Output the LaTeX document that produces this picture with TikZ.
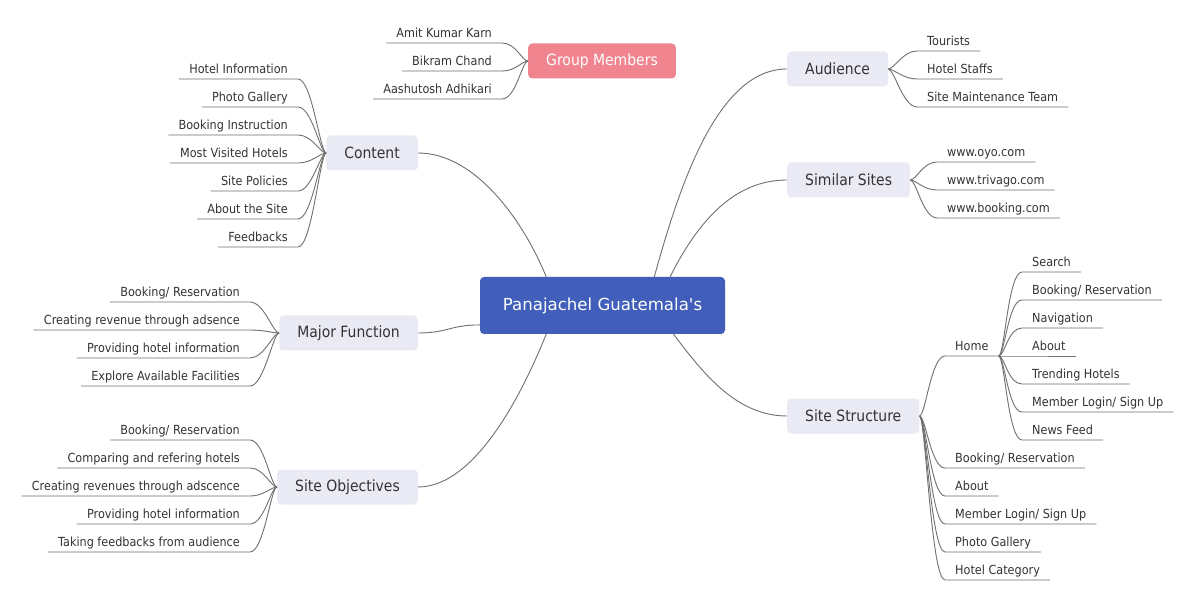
\documentclass[tikz,border=0pt]{standalone}
\usepackage{fontspec}
\setmainfont{DejaVu Sans}[FakeStretch=0.9]
\newfontfamily\rootfont{DejaVu Sans}[Ligatures=ResetAll]
\definecolor{rootblue}{RGB}{64,94,186}
\definecolor{topicgray}{RGB}{233,234,243}
\definecolor{grouppink}{RGB}{240,132,143}
\definecolor{linegray}{RGB}{112,112,112}
\definecolor{textdark}{RGB}{51,51,51}
\tikzset{
	root/.style={rectangle,rounded corners=4pt,fill=rootblue,text=white,font=\rootfont\fontsize{16.6}{20}\selectfont,minimum width=245pt,minimum height=57pt},
	topic/.style={rectangle,rounded corners=4pt,fill=topicgray,text=textdark,font=\fontsize{15.5}{18}\selectfont,minimum height=35pt,inner xsep=18pt},
	leaf/.style={inner xsep=10pt,inner ysep=2pt,text height=9pt,text depth=3pt,text=textdark,font=\fontsize{12.5}{14}\selectfont},
	link/.style={draw=linegray,line width=0.9pt},
}
\begin{document}
\begin{tikzpicture}[x=1pt,y=-1pt]
	\fill [white] (0,0) rectangle (1199,601);
	\useasboundingbox (0,0) rectangle (1199,601);
	% central topic and main branches
	\node [root] (root) at (602.5,305.5) {Panajachel Guatemala's};
	\node [topic,anchor=east] (content) at (418,153) {Content};
	\node [topic,anchor=east] (major) at (418,333) {Major Function};
	\node [topic,anchor=east] (objectives) at (418,487) {Site Objectives};
	\node [topic,fill=grouppink,text=white] (group) at (602,61) {Group Members};
	\node [topic,anchor=west] (audience) at (787,69) {Audience};
	\node [topic,anchor=west] (similar) at (787,180) {Similar Sites};
	\node [topic,anchor=west] (structure) at (787,416) {Site Structure};
	% group members
	\node [leaf,anchor=south east] (g1) at (502,43) {Amit Kumar Karn};
	\node [leaf,anchor=south east] (g2) at (502,71) {Bikram Chand};
	\node [leaf,anchor=south east] (g3) at (502,99) {Aashutosh Adhikari};
	% content
	\node [leaf,anchor=south east] (c1) at (298,79) {Hotel Information};
	\node [leaf,anchor=south east] (c2) at (298,107) {Photo Gallery};
	\node [leaf,anchor=south east] (c3) at (298,135) {Booking Instruction};
	\node [leaf,anchor=south east] (c4) at (298,163) {Most Visited Hotels};
	\node [leaf,anchor=south east] (c5) at (298,191) {Site Policies};
	\node [leaf,anchor=south east] (c6) at (298,219) {About the Site};
	\node [leaf,anchor=south east] (c7) at (298,247) {Feedbacks};
	% major function
	\node [leaf,anchor=south east] (m1) at (250,302) {Booking/ Reservation};
	\node [leaf,anchor=south east] (m2) at (250,330) {Creating revenue through adsence};
	\node [leaf,anchor=south east] (m3) at (250,358) {Providing hotel information};
	\node [leaf,anchor=south east] (m4) at (250,386) {Explore Available Facilities};
	% site objectives
	\node [leaf,anchor=south east] (o1) at (250,440) {Booking/ Reservation};
	\node [leaf,anchor=south east] (o2) at (250,468) {Comparing and refering hotels};
	\node [leaf,anchor=south east] (o3) at (250,496) {Creating revenues through adscence};
	\node [leaf,anchor=south east] (o4) at (250,524) {Providing hotel information};
	\node [leaf,anchor=south east] (o5) at (250,552) {Taking feedbacks from audience};
	% audience
	\node [leaf,anchor=south west] (a1) at (917,51) {Tourists};
	\node [leaf,anchor=south west] (a2) at (917,79) {Hotel Staffs};
	\node [leaf,anchor=south west] (a3) at (917,107) {Site Maintenance Team};
	% similar sites
	\node [leaf,anchor=south west] (s1) at (937,162) {www.oyo.com};
	\node [leaf,anchor=south west] (s2) at (937,190) {www.trivago.com};
	\node [leaf,anchor=south west] (s3) at (937,218) {www.booking.com};
	% site structure
	\node [leaf,anchor=south west] (home) at (945,356) {Home};
	\node [leaf,anchor=south west] (t1) at (945,468) {Booking/ Reservation};
	\node [leaf,anchor=south west] (t2) at (945,496) {About};
	\node [leaf,anchor=south west] (t3) at (945,524) {Member Login/ Sign Up};
	\node [leaf,anchor=south west] (t4) at (945,552) {Photo Gallery};
	\node [leaf,anchor=south west] (t5) at (945,580) {Hotel Category};
	\node [leaf,anchor=south west] (h1) at (1022,272) {Search};
	\node [leaf,anchor=south west] (h2) at (1022,300) {Booking/ Reservation};
	\node [leaf,anchor=south west] (h3) at (1022,328) {Navigation};
	\node [leaf,anchor=south west] (h4) at (1022,356) {About};
	\node [leaf,anchor=south west] (h5) at (1022,384) {Trending Hotels};
	\node [leaf,anchor=south west] (h6) at (1022,412) {Member Login/ Sign Up};
	\node [leaf,anchor=south west] (h7) at (1022,440) {News Feed};
	% branches from the centre
	\draw [link] (root.153.6) .. controls +(-20,-50) and +(60,0) .. (content.east);
	\draw [link] (root.189) .. controls +(-30,0) and +(30,0) .. (major.east);
	\draw [link] (root.207.6) .. controls +(-20,50) and +(60,0) .. (objectives.east);
	\draw [link] (root.29.9) .. controls +(25,-90) and +(-70,0) .. (audience.west);
	\draw [link] (root.23.8) .. controls +(30,-60) and +(-50,0) .. (similar.west);
	\draw [link] (root.-22.3) .. controls +(30,40) and +(-50,0) .. (structure.west);
	% sub-topics
	\foreach \i in {1,2,3}
		\draw [link] (group.west) .. controls +(-6,0) and +(14,0) .. (g\i.south east) -- (g\i.south west);
	\foreach \i in {1,...,7}
		\draw [link] (content.west) .. controls +(-6,0) and +(14,0) .. (c\i.south east) -- (c\i.south west);
	\foreach \i in {1,...,4}
		\draw [link] (major.west) .. controls +(-6,0) and +(14,0) .. (m\i.south east) -- (m\i.south west);
	\foreach \i in {1,...,5}
		\draw [link] (objectives.west) .. controls +(-6,0) and +(14,0) .. (o\i.south east) -- (o\i.south west);
	\foreach \i in {1,2,3}
		\draw [link] (audience.east) .. controls +(6,0) and +(-14,0) .. (a\i.south west) -- (a\i.south east);
	\foreach \i in {1,2,3}
		\draw [link] (similar.east) .. controls +(6,0) and +(-14,0) .. (s\i.south west) -- (s\i.south east);
	\foreach \n in {home,t1,t2,t3,t4,t5}
		\draw [link] (structure.east) .. controls +(6,0) and +(-14,0) .. (\n.south west) -- (\n.south east);
	\foreach \i in {1,...,7}
		\draw [link] (home.south east) .. controls +(6,0) and +(-14,0) .. (h\i.south west) -- (h\i.south east);
\end{tikzpicture}
\end{document}
